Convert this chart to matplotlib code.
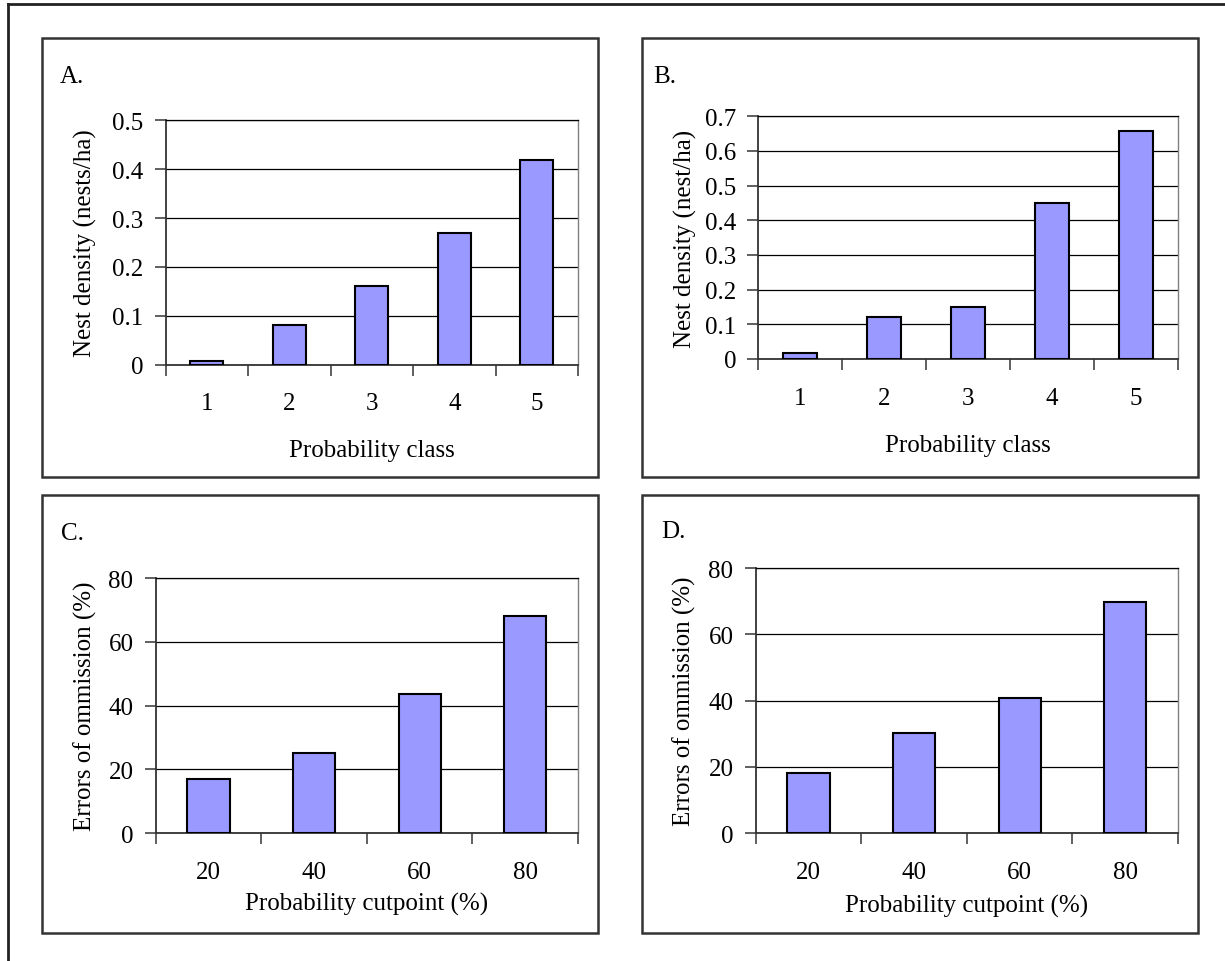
import matplotlib
matplotlib.use("Agg")
import matplotlib.pyplot as plt
from matplotlib.patches import Rectangle
from matplotlib.lines import Line2D

plt.rcParams['font.family'] = ['Liberation Serif', 'DejaVu Serif']

# data
classes = [1, 2, 3, 4, 5]
density_a = [0.007, 0.081, 0.16, 0.27, 0.418]
density_b = [0.017, 0.122, 0.151, 0.451, 0.659]
cutpoints = [20, 40, 60, 80]
omission_c = [16.9, 25.1, 43.8, 68.1]
omission_d = [18.1, 30.1, 40.9, 69.8]

W, H = 1225, 962
fig = plt.figure(figsize=(W / 100, H / 100), dpi=100)

def fx(px):
    return px / W

def fy(py):
    return 1 - py / H

# outer frame (left and top edges only are visible)
fig.add_artist(Line2D([fx(7.5), fx(7.5)], [fy(5), 0], color='#222222', lw=2))
fig.add_artist(Line2D([fx(7.5), 1], [fy(5), fy(5)], color='#222222', lw=2))

# panel boxes: left, top, right, bottom in pixels
boxes = [(42, 39, 598, 478), (642, 39, 1198, 478),
         (42, 496, 598, 934), (642, 496, 1198, 934)]
for l, t, r, b in boxes:
    fig.add_artist(Rectangle((fx(l), fy(b)), fx(r - l), (b - t) / H,
                             fill=False, edgecolor='#333333', lw=1.8))

def panel(rect, cats, vals, ymax, ystep, fmt, ylab, xlab, letter, letter_xy,
          ylab_x, xlab_y):
    l, t, r, b = rect
    ax = fig.add_axes([fx(l), fy(b), fx(r - l), (b - t) / H])
    pos = list(range(len(cats)))
    ax.bar(pos, vals, width=0.4, color='#9999ff', edgecolor='black',
           lw=1.5, zorder=3)
    ax.set_xlim(-0.5, len(cats) - 0.5)
    ax.set_ylim(0, ymax)
    yt = [i * ystep for i in range(int(round(ymax / ystep)) + 1)]
    ax.set_yticks(yt)
    ax.set_yticklabels([fmt(v) for v in yt], fontsize=18)
    ax.yaxis.grid(True, color='black', lw=0.9, zorder=0)
    ax.set_axisbelow(True)
    # boundary ticks without labels, category labels in between
    ax.set_xticks([p - 0.5 for p in pos] + [len(cats) - 0.5])
    ax.set_xticklabels([])
    ax.set_xticks(pos, minor=True)
    ax.set_xticklabels([str(c) for c in cats], minor=True, fontsize=18)
    ax.tick_params(axis='x', which='major', direction='out', length=8,
                   width=1.2, color='#444444')
    ax.tick_params(axis='x', which='minor', length=0, pad=20)
    ax.tick_params(axis='y', direction='out', length=8, width=1.2,
                   pad=8, color='#444444')
    ax.spines['left'].set_color('#333333')
    ax.spines['bottom'].set_color('#333333')
    ax.spines['left'].set_linewidth(1.3)
    ax.spines['bottom'].set_linewidth(1.3)
    ax.spines['top'].set_color('black')
    ax.spines['top'].set_linewidth(0.9)
    ax.spines['right'].set_color('#808080')
    ax.spines['right'].set_linewidth(1.0)
    ax.set_ylabel(ylab, fontsize=18, va='center')
    ax.yaxis.set_label_coords(fx(ylab_x), fy((t + b) / 2), transform=fig.transFigure)
    ax.set_xlabel(xlab, fontsize=18, va='center')
    ax.xaxis.set_label_coords(fx((l + r) / 2), fy(xlab_y), transform=fig.transFigure)
    fig.text(fx(letter_xy[0]), fy(letter_xy[1]), letter, fontsize=18,
             va='baseline', ha='left')
    return ax

one_dec = lambda v: '0' if v == 0 else '%.1f' % v
integer = lambda v: '%d' % v

panel((165.7, 121.3, 578, 365.7), classes, density_a, 0.5, 0.1, one_dec,
      'Nest density (nests/ha)', 'Probability class', 'A.', (60, 83), 85, 451)
panel((758.3, 117.3, 1178, 360), classes, density_b, 0.7, 0.1, one_dec,
      'Nest density (nest/ha)', 'Probability class', 'B.', (653, 83), 685, 446)
panel((155.7, 579, 578, 834.3), cutpoints, omission_c, 80, 20, integer,
      'Errors of ommission (%)', 'Probability cutpoint (%)', 'C.', (61, 540), 85, 904)
panel((755.7, 569, 1178, 834.3), cutpoints, omission_d, 80, 20, integer,
      'Errors of ommission (%)', 'Probability cutpoint (%)', 'D.', (661, 538), 684, 906)

fig.savefig('out.png', dpi=100)
